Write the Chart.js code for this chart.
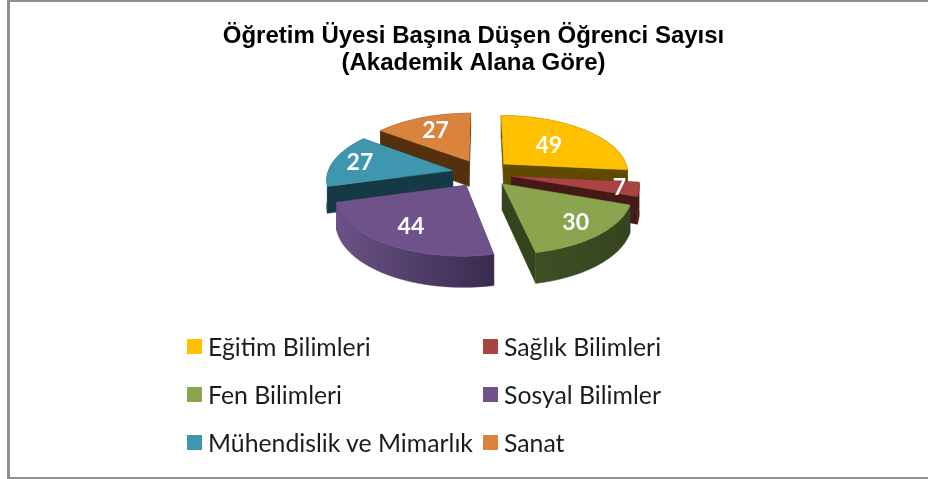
<!DOCTYPE html>
<html>
<head>
<meta charset="utf-8">
<script src="https://cdn.jsdelivr.net/npm/chart.js@4"></script>
<style>
  html, body { margin: 0; padding: 0; background: #fff; overflow: hidden; }
  #wrap { position: relative; width: 928px; height: 479px; }
  #frame { position: absolute; left: 7px; top: 0; right: 0; bottom: 0; border-left: 3px solid #8f8f8f; border-top: 2px solid #8f8f8f; border-bottom: 2px solid #8f8f8f; pointer-events: none; }
  #legend { position: absolute; left: 187px; top: 322px; display: grid; grid-template-columns: 296px 200px; grid-auto-rows: 48px; font: 24.8px Lato, sans-serif; color: #1c1c1c; }
  #legend div { display: flex; align-items: center; white-space: nowrap; }
  #legend i { display: inline-block; width: 15px; height: 15px; margin-right: 6px; }
</style>
</head>
<body>
<div id="wrap">
  <canvas id="chart" width="928" height="479"></canvas>
  <div id="legend"></div>
  <div id="frame"></div>
</div>
<script>
// DATA
const titleLines = ["Öğretim Üyesi Başına Düşen Öğrenci Sayısı", "(Akademik Alana Göre)"];
const categories = ["Eğitim Bilimleri", "Sağlık Bilimleri", "Fen Bilimleri", "Sosyal Bilimler", "Mühendislik ve Mimarlık", "Sanat"];
const values = [49, 7, 30, 44, 27, 27];

// COLORS
const topColors = ["#ffc000", "#a84442", "#8ba54e", "#6f528a", "#3f97af", "#d9833d"];
const wallLeft = ["#6b5400", "#4d1c1b", "#3e4f24", "#6a5285", "#1a424e", "#5f3516"];
const wallRight = ["#5f4a00", "#451918", "#35441e", "#392b4e", "#163a45", "#54300f"];

// 3D look
const explode = 30;
const squash = 0.46;
const perspective = 0.0011;
const depth = 26;
const shiftX = 8.5;
// how far out each value label sits, as a share of the radius
const labelDist = [0.53, 0.85, 0.78, 0.73, 0.78, 0.69];
// back to front
const drawOrder = [5, 0, 4, 1, 2, 3];

//* project a point of the pie plane to the screen
function project(arc, wx, wy, z) {
  const k = 1 / (1 - wy * perspective);
  return {
    x: arc.x + shiftX + wx * k,
    y: arc.y + wy * squash * k + z * depth * k,
  };
}

function slicePoints(arc) {
  const mid = (arc.startAngle + arc.endAngle) / 2;
  const ox = Math.cos(mid) * explode;
  const oy = Math.sin(mid) * explode;
  const pts = [];
  const steps = Math.ceil((arc.endAngle - arc.startAngle) / 0.03);
  for (let i = 0; i <= steps; i++) {
    const a = arc.startAngle + ((arc.endAngle - arc.startAngle) * i) / steps;
    pts.push([ox + Math.cos(a) * arc.outerRadius, oy + Math.sin(a) * arc.outerRadius]);
  }
  return { ox, oy, mid, pts };
}

function fillPoly(ctx, poly, fill) {
  ctx.beginPath();
  poly.forEach((p, i) => (i ? ctx.lineTo(p.x, p.y) : ctx.moveTo(p.x, p.y)));
  ctx.closePath();
  ctx.fillStyle = fill;
  ctx.strokeStyle = fill;
  ctx.lineWidth = 0.5;
  ctx.fill();
  ctx.stroke();
}

function drawSlice(ctx, arc, i) {
  const { ox, oy, pts } = slicePoints(arc);
  const up = pts.map((p) => project(arc, p[0], p[1], 0));
  const down = pts.map((p) => project(arc, p[0], p[1], 1));
  const apexUp = project(arc, ox, oy, 0);
  const apexDown = project(arc, ox, oy, 1);
  const last = pts.length - 1;

  // side faces and outer wall, farthest first
  const grad = ctx.createLinearGradient(Math.min(...up.map((p) => p.x)), 0, Math.max(...up.map((p) => p.x)), 0);
  grad.addColorStop(0, wallLeft[i]);
  grad.addColorStop(1, wallRight[i]);
  const faces = [
    [apexUp, up[0], down[0], apexDown],
    [apexUp, up[last], down[last], apexDown],
    up.concat(down.slice().reverse()),
  ];
  const fills = [wallRight[i], wallRight[i], grad];
  const meanY = (f) => f.reduce((s, p) => s + p.y, 0) / f.length;
  [0, 1, 2]
    .sort((a, b) => meanY(faces[a]) - meanY(faces[b]))
    .forEach((f) => fillPoly(ctx, faces[f], fills[f]));

  // top
  fillPoly(ctx, [apexUp].concat(up), topColors[i]);
}

const pie3d = {
  id: "pie3d",
  // replaces the flat arcs
  beforeDatasetDraw(chart, args) {
    const ctx = chart.ctx;
    const arcs = chart.getDatasetMeta(args.index).data;
    ctx.save();
    drawOrder.forEach((i) => drawSlice(ctx, arcs[i], i));

    ctx.fillStyle = "#ffffff";
    ctx.font = "bold 23px Lato, sans-serif";
    ctx.textAlign = "center";
    ctx.textBaseline = "middle";
    arcs.forEach((arc, i) => {
      const { ox, oy, mid } = slicePoints(arc);
      const r = arc.outerRadius * labelDist[i];
      const p = project(arc, ox + Math.cos(mid) * r, oy + Math.sin(mid) * r, 0);
      ctx.fillText(String(values[i]), p.x, p.y);
    });
    ctx.restore();
    return false;
  },
};

new Chart(document.getElementById("chart"), {
  type: "pie",
  data: {
    labels: categories,
    datasets: [{ data: values, backgroundColor: topColors }],
  },
  options: {
    responsive: false,
    animation: false,
    radius: 125,
    layout: { padding: { left: 19, right: 0, top: 0, bottom: 216 } },
    plugins: {
      legend: { display: false },
      tooltip: { enabled: false },
      title: {
        display: true,
        text: titleLines,
        color: "#000000",
        font: { family: "Liberation Sans", size: 24, weight: "bold", lineHeight: 1.13 },
        padding: { top: 23, bottom: 6 },
      },
    },
  },
  plugins: [pie3d],
});

// Legend in two columns
const legendDiv = document.getElementById("legend");
categories.forEach((name, i) => {
  const item = document.createElement("div");
  const box = document.createElement("i");
  box.style.background = topColors[i];
  item.append(box, name);
  legendDiv.append(item);
});
</script>
</body>
</html>
